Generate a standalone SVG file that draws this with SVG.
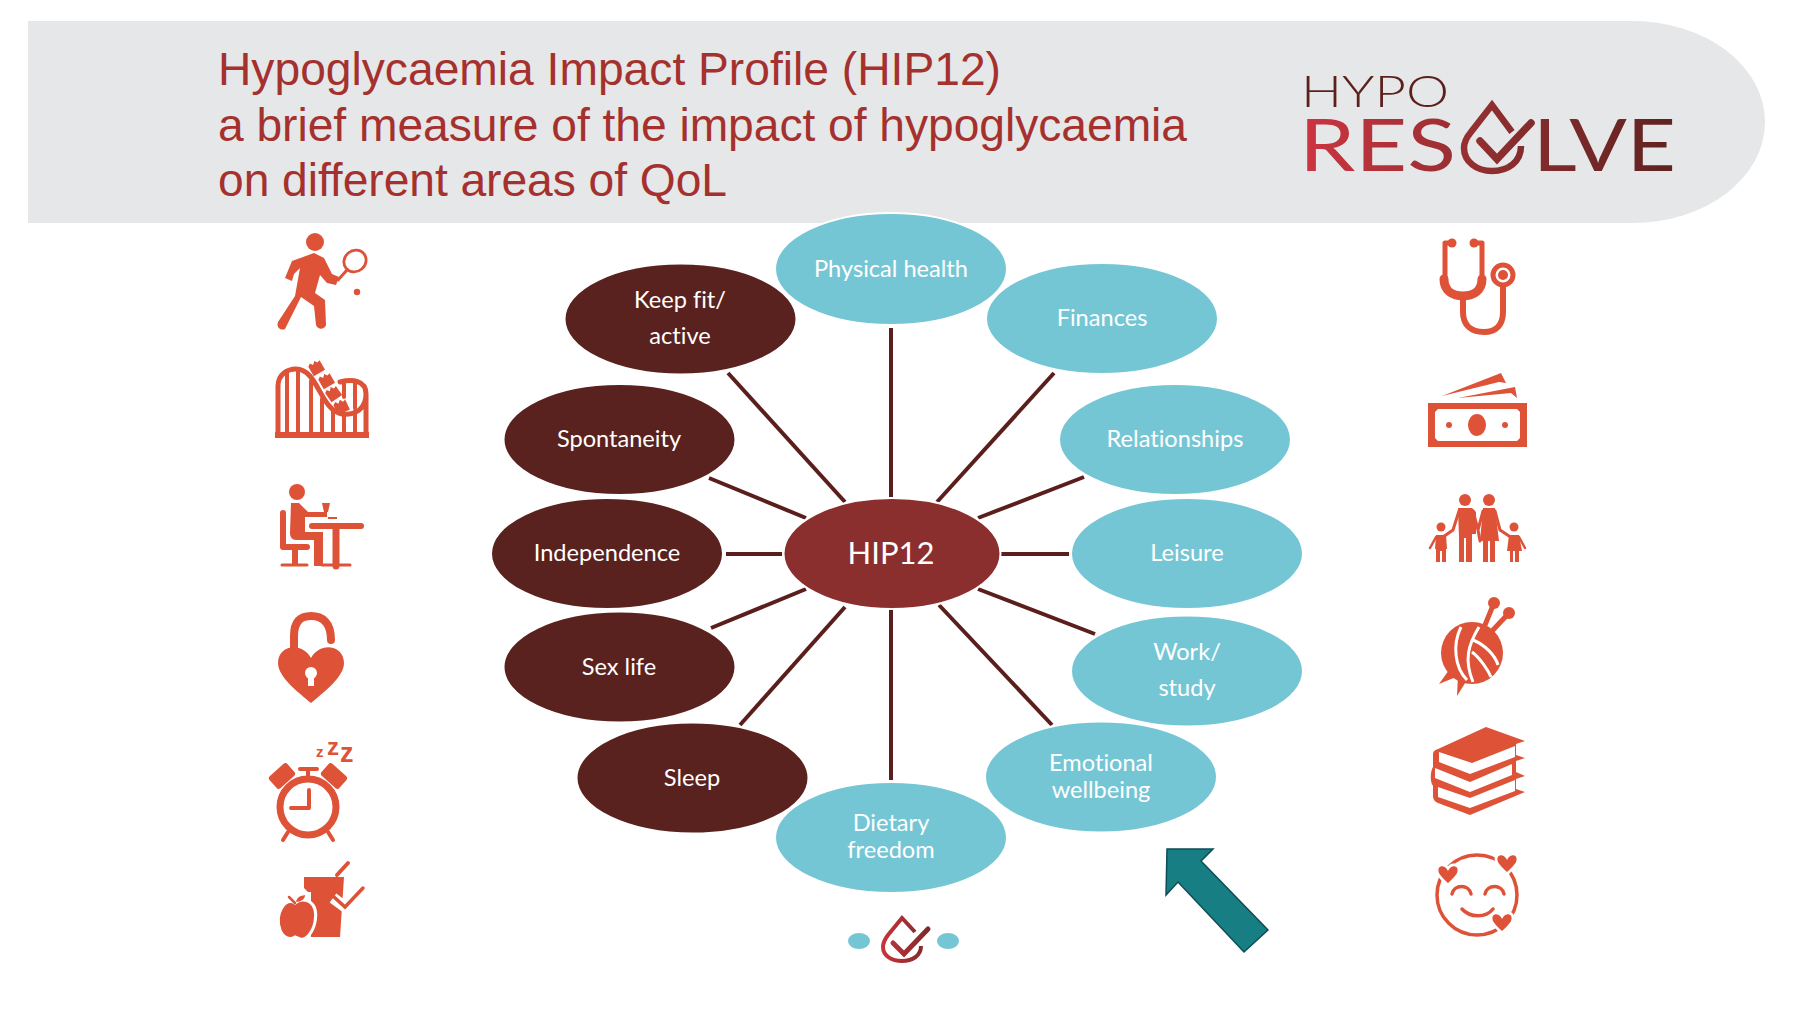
<svg xmlns="http://www.w3.org/2000/svg" width="1798" height="1014" viewBox="0 0 1798 1014">
<style>
.n{stroke:#fff;stroke-width:2}
.t{fill:#5a221e}.c{fill:#75c6d5}
.l{font-family:Lato,"Open Sans",sans-serif;font-size:23.6px;fill:#fff;text-anchor:middle;font-variant-ligatures:none}
.title{font-family:"Liberation Sans",Arial,sans-serif;font-size:46.2px;fill:#a5312f}
.logo{font-family:Lato,"Open Sans",sans-serif}
.o{fill:#de5238}
.s{fill:none;stroke:#de5238;stroke-linecap:round;stroke-linejoin:round}
.w{fill:#fff}
.con line{stroke:#5a1f1c;stroke-width:4}
</style>
<defs>
<linearGradient id="lg" gradientUnits="userSpaceOnUse" x1="1306" y1="0" x2="1672" y2="0"><stop offset="0" stop-color="#cc3440"/><stop offset=".5" stop-color="#8e2e30"/><stop offset="1" stop-color="#5f2320"/></linearGradient>
<linearGradient id="lg2" gradientUnits="userSpaceOnUse" x1="881" y1="0" x2="928" y2="0"><stop offset="0" stop-color="#c9343c"/><stop offset="1" stop-color="#7e2a2a"/></linearGradient>
<path id="heart" d="M0 9C-4 5-10 1-10-4C-10-10-3-11 0-6C3-11 10-10 10-4C10 1 4 5 0 9Z"/>
<path id="car" d="M-6-5L-3-7L-1-4L2-7L4-4L7-5L7 6L-6 6Z"/>
</defs>
<g id="header">
<path d="M28 21H1633A132 101 0 0 1 1633 223H28Z" fill="#e6e7e8"/>
<text class="title" x="218" y="85" textLength="783">Hypoglycaemia Impact Profile (HIP12)</text>
<text class="title" x="218" y="141" textLength="969">a brief measure of the impact of hypoglycaemia</text>
<text class="title" x="218" y="196" textLength="509">on different areas of QoL</text>
</g>
<g id="logo">
<text class="logo" x="1301" y="107" font-size="43" font-weight="300" fill="#5b1f1c" textLength="148" lengthAdjust="spacingAndGlyphs">HYPO</text>
<text class="logo" x="1299" y="171" font-size="72" fill="url(#lg)" textLength="157" lengthAdjust="spacingAndGlyphs">RES</text>
<text class="logo" x="1533" y="171" font-size="72" fill="url(#lg)" textLength="143" lengthAdjust="spacingAndGlyphs">LVE</text>
<path d="M1512 132L1492 105L1471 132C1466 138 1464 142 1464 148C1464 162 1477 171 1492 171C1508 171 1521 162 1521 146" fill="none" stroke="url(#lg)" stroke-width="6.5"/>
<path d="M1480 141L1497 159L1531 123" fill="none" stroke="url(#lg)" stroke-width="7.5" stroke-linecap="round"/>
</g>
<g class="con" id="connectors">
<line x1="891" y1="328" x2="891" y2="497"/>
<line x1="728" y1="373" x2="845" y2="502"/>
<line x1="1054" y1="373" x2="937" y2="502"/>
<line x1="709" y1="478" x2="806" y2="518"/>
<line x1="1084" y1="477" x2="978" y2="518"/>
<line x1="726" y1="554" x2="782" y2="554"/>
<line x1="1001" y1="554" x2="1069" y2="554"/>
<line x1="711" y1="628" x2="806" y2="589"/>
<line x1="978" y1="589" x2="1095" y2="634"/>
<line x1="740" y1="725" x2="845" y2="607"/>
<line x1="939" y1="605" x2="1052" y2="725"/>
<line x1="891" y1="610" x2="891" y2="780"/>
</g>
<g id="n-physical"><ellipse class="n c" cx="891" cy="269" rx="116" ry="56"/><text class="l" x="891" y="277">Physical health</text></g>
<g id="n-finances"><ellipse class="n c" cx="1102" cy="318.500" rx="116" ry="55.500"/><text class="l" x="1102" y="326">Finances</text></g>
<g id="n-relationships"><ellipse class="n c" cx="1175" cy="439.500" rx="116" ry="55.500"/><text class="l" x="1175" y="447">Relationships</text></g>
<g id="n-leisure"><ellipse class="n c" cx="1187" cy="553.500" rx="116" ry="55.500"/><text class="l" x="1187" y="561">Leisure</text></g>
<g id="n-work"><ellipse class="n c" cx="1187" cy="671" rx="116" ry="55.500"/><text class="l" x="1187" y="660">Work/</text><text class="l" x="1187" y="696">study</text></g>
<g id="n-keepfit"><ellipse class="n t" cx="680.500" cy="319" rx="116" ry="55.500"/><text class="l" x="680" y="308">Keep fit/</text><text class="l" x="680" y="344">active</text></g>
<g id="n-spontaneity"><ellipse class="n t" cx="619.500" cy="439.500" rx="116" ry="55.500"/><text class="l" x="619" y="447">Spontaneity</text></g>
<g id="n-independence"><ellipse class="n t" cx="607" cy="553.500" rx="116" ry="55.500"/><text class="l" x="607" y="561">Independence</text></g>
<g id="n-sexlife"><ellipse class="n t" cx="619.500" cy="667" rx="116" ry="55.500"/><text class="l" x="619" y="675">Sex life</text></g>
<g id="n-sleep"><ellipse class="n t" cx="692.500" cy="778" rx="116" ry="55.500"/><text class="l" x="692" y="786">Sleep</text></g>
<g id="n-dietary"><ellipse class="n c" cx="891" cy="837.500" rx="116" ry="55.500"/><text class="l" x="891" y="831">Dietary</text><text class="l" x="891" y="858">freedom</text></g>
<g id="n-emotional"><ellipse class="n c" cx="1101" cy="777" rx="116" ry="55.500"/><text class="l" x="1101" y="771">Emotional</text><text class="l" x="1101" y="798">wellbeing</text></g>
<g id="n-hip12"><ellipse class="n" fill="#8b2e2e" cx="892" cy="553.500" rx="108.500" ry="55.500"/><text class="l" x="891" y="564" style="font-size:31px">HIP12</text></g>
<g id="arrow"><path d="M1167 849H1213L1201 861L1268 930L1244 952L1178 882L1166 895Z" fill="#177e84" stroke="#0e4d55" stroke-width="1.500"/></g>
<g id="bottom-mark">
<ellipse cx="859" cy="941" rx="11" ry="8" fill="#75c6d5"/><ellipse cx="948" cy="941" rx="11" ry="8" fill="#75c6d5"/>
<path d="M915 932L902 918L888 935C885 939 883 943 883 947C883 956 892 961 902 961C912 961 921 956 921 946" fill="none" stroke="url(#lg2)" stroke-width="4"/>
<path d="M893 943L904 954L928 929" fill="none" stroke="url(#lg2)" stroke-width="5" stroke-linecap="round"/>
</g>
<g id="icon-tennis">
<circle class="o" cx="315" cy="242" r="9"/>
<path class="o" d="M292 261L314 253L324 258L332 274L339 277L336 285L327 283L320 275L315 293L325 300L326 325C324 330 318 330 316 325L314 306L301 297L285 329C281 331 276 328 278 322L295 296L300 268L294 274L292 281L285 278Z"/>
<ellipse cx="355" cy="261" rx="11.500" ry="10.500" transform="rotate(-40 355 261)" fill="none" stroke="#de5238" stroke-width="2.800"/>
<path class="s" stroke-width="3" d="M347 270L338 280"/>
<circle class="o" cx="357" cy="292" r="3.200"/>
</g>
<g id="icon-coaster">
<rect class="o" x="275" y="432" width="94" height="6"/>
<path class="s" stroke-width="5" stroke-linecap="butt" d="M278 435V386C278 374 288 369 296 369C318 369 320 410 342 414C358 416 366 406 366 394C366 380 352 379 340 382M366 394V435"/>
<path class="s" stroke-width="4" stroke-linecap="butt" d="M287 435V372M298 435V370M311 435V381M322 435V399M333 435V411M344 435V414M355 435V411M344 382V397M355 381V408"/>
<g class="o"><use href="#car" transform="translate(316 368) rotate(-30)"/><use href="#car" transform="translate(326 381) rotate(-30)"/><use href="#car" transform="translate(333 394) rotate(-35)"/><use href="#car" transform="translate(341 407) rotate(-25)"/></g>
</g>
<g id="icon-dining">
<circle class="o" cx="297" cy="492" r="8"/>
<path class="o" d="M291 503H299L308 512H325V517H305V532H323V566H314V540H296C292 540 290 537 290 533Z"/>
<path class="s" stroke-width="6" d="M283 513V547H307"/>
<path class="s" stroke-width="6" stroke-linecap="butt" d="M295 548V563"/>
<path class="s" stroke-width="6" d="M312 526H361"/>
<path class="s" stroke-width="7" stroke-linecap="butt" d="M336 527V566"/>
<path class="s" stroke-width="3" stroke-linecap="butt" d="M282 565H307M322 565H350"/>
<path class="o" d="M322 503H330L328 512H327V517H325V512H324Z"/>
<rect class="o" x="328" y="517" width="9" height="2"/>
</g>
<g id="icon-lock">
<path class="s" stroke-width="8" stroke-linecap="butt" d="M294 652V636C294 620 302 616 311 616C322 616 331 622 331 640"/>
<path class="o" d="M311 703C298 692 278 677 278 663C278 645 302 641 311 658C320 641 344 645 344 663C344 677 324 692 311 703Z"/>
<circle class="w" cx="311" cy="673" r="6"/><rect class="w" x="308" y="674" width="6" height="12"/>
</g>
<g id="icon-alarm">
<circle cx="308" cy="807" r="28" fill="none" stroke="#de5238" stroke-width="7"/>
<path class="s" stroke-width="4" stroke-linecap="butt" d="M309 790V808H291"/>
<path class="s" stroke-width="4" d="M300 769H317M308 769V777M288 832L283 840M328 832L333 840"/>
<rect class="o" x="270" y="768" width="24" height="16" rx="3" transform="rotate(-42 282 776)"/>
<rect class="o" x="322" y="768" width="24" height="16" rx="3" transform="rotate(42 334 776)"/>
<g font-family="Liberation Sans,Arial,sans-serif" font-weight="700" fill="#de5238"><text x="316" y="757" font-size="15">z</text><text x="327" y="755" font-size="24">z</text><text x="340" y="762" font-size="27">z</text></g>
</g>
<g id="icon-food">
<path class="o" d="M304 877H344L340 937H311V892H308L304 888Z"/>
<path d="M333 898L345 907L363 888" fill="none" stroke="#fff" stroke-width="11"/>
<path d="M334 897L345 907L363 888" fill="none" stroke="#de5238" stroke-width="3.500" stroke-linecap="round"/>
<path class="s" stroke-width="4" d="M337 875L348 863"/>
<path d="M295 903C304 896 319 901 315 922C313 932 306 941 300 939L295 937C289 941 283 937 280 930C274 913 286 896 295 903Z" fill="#de5238" stroke="#fff" stroke-width="3"/>
<path class="s" stroke-width="2.500" d="M289 897L295 903"/>
<path class="o" d="M296 902C297 897 300 896 305 895C305 899 301 902 296 902Z"/>
</g>
<g id="icon-stethoscope">
<path class="s" stroke-width="5" d="M1452 243H1445V280M1474 243H1482V280"/>
<circle class="o" cx="1452" cy="243" r="4.500"/><circle class="o" cx="1474" cy="243" r="4.500"/>
<path class="s" stroke-width="9" d="M1444 279C1444 290 1452 296 1463 296C1474 296 1482 290 1482 279"/>
<path class="s" stroke-width="6" d="M1463 298V312C1463 325 1471 332 1484 332C1496 332 1503 325 1503 312V287"/>
<circle cx="1503" cy="275" r="10" fill="none" stroke="#de5238" stroke-width="5"/><circle class="o" cx="1503" cy="275" r="5"/>
</g>
<g id="icon-money">
<path class="o" fill-rule="evenodd" d="M1428 403H1527V447H1428ZM1438 409L1435 412V438L1438 441H1517L1520 438V412L1517 409Z"/>
<ellipse class="o" cx="1477" cy="425" rx="9" ry="11"/><circle class="o" cx="1449" cy="425" r="3"/><circle class="o" cx="1505" cy="425" r="3"/>
<path class="o" d="M1442 396L1501 373L1506 383L1499 382Z"/><path class="o" d="M1458 398L1515 387L1517 398L1511 393Z"/>
</g>
<g id="icon-family">
<circle class="o" cx="1465" cy="500" r="6"/><circle class="o" cx="1489" cy="500" r="6"/><circle class="o" cx="1441" cy="527" r="4.500"/><circle class="o" cx="1514" cy="527" r="4.500"/>
<path class="o" d="M1458 508H1472L1476 512V534H1472V562H1466V538H1464V562H1459V538Z"/>
<path class="o" d="M1483 508H1495L1499 541H1495V562H1490V541H1488V562H1483V541H1480Z"/>
<path class="s" stroke-width="3" d="M1459 511L1453 530L1443 537M1473 511L1478 530L1480 541M1483 511L1478 530M1495 511L1500 530L1512 538"/>
<path class="o" d="M1436 535H1446L1447 549H1446V562H1442V551H1440V562H1436V549H1435Z"/>
<path class="s" stroke-width="2.500" d="M1436 537L1430 548M1519 537L1525 548"/>
<path class="o" d="M1509 535H1519L1522 551H1519V562H1515V551H1513V562H1510V551H1507Z"/>
</g>
<g id="icon-yarn">
<path class="s" stroke-width="5" d="M1485 625L1494 603M1493 630L1509 613"/>
<circle class="o" cx="1494" cy="603" r="6"/><circle class="o" cx="1509" cy="613" r="6"/>
<path class="o" d="M1449 670L1439 684L1456 677ZM1458 675L1457 696L1467 680Z"/>
<circle class="o" cx="1472" cy="653" r="31"/>
<g fill="none" stroke="#fff" stroke-width="3"><path d="M1461 627C1452 645 1455 668 1467 680"/><path d="M1479 627C1468 645 1464 660 1473 682"/><path d="M1473 640C1485 645 1495 655 1498 665"/><path d="M1472 652C1480 658 1488 670 1491 677"/></g>
</g>
<g id="icon-books">
<path class="o" d="M1486 727L1525 741L1516 744V755L1525 758L1516 761V772L1525 776L1516 779V789L1525 792L1470 815L1438 803C1434 801 1433 799 1433 795V786C1430 782 1430 772 1433 767V755C1433 751 1435 750 1438 749Z"/>
<g class="w"><path d="M1439 752L1472 763L1515 746V757L1470 774L1439 762Z"/><path d="M1435 768L1470 782L1512 764V775L1470 792L1435 778Z"/><path d="M1438 787L1470 798L1515 780V791L1470 808L1438 797Z"/></g>
</g>
<g id="icon-smile">
<circle cx="1477" cy="895" r="40" fill="none" stroke="#de5238" stroke-width="3.500"/>
<g class="o" stroke="#fff" stroke-width="2.500"><use href="#heart" transform="translate(1507 864) scale(1.100)"/><use href="#heart" transform="translate(1448 875) scale(1.100)"/><use href="#heart" transform="translate(1502 923) scale(1.100)"/></g>
<path class="s" stroke-width="3.500" d="M1452 894C1454 884 1469 884 1471 894M1485 894C1487 884 1502 884 1504 894M1462 909C1470 918 1486 918 1493 909"/>
</g>
</svg>
